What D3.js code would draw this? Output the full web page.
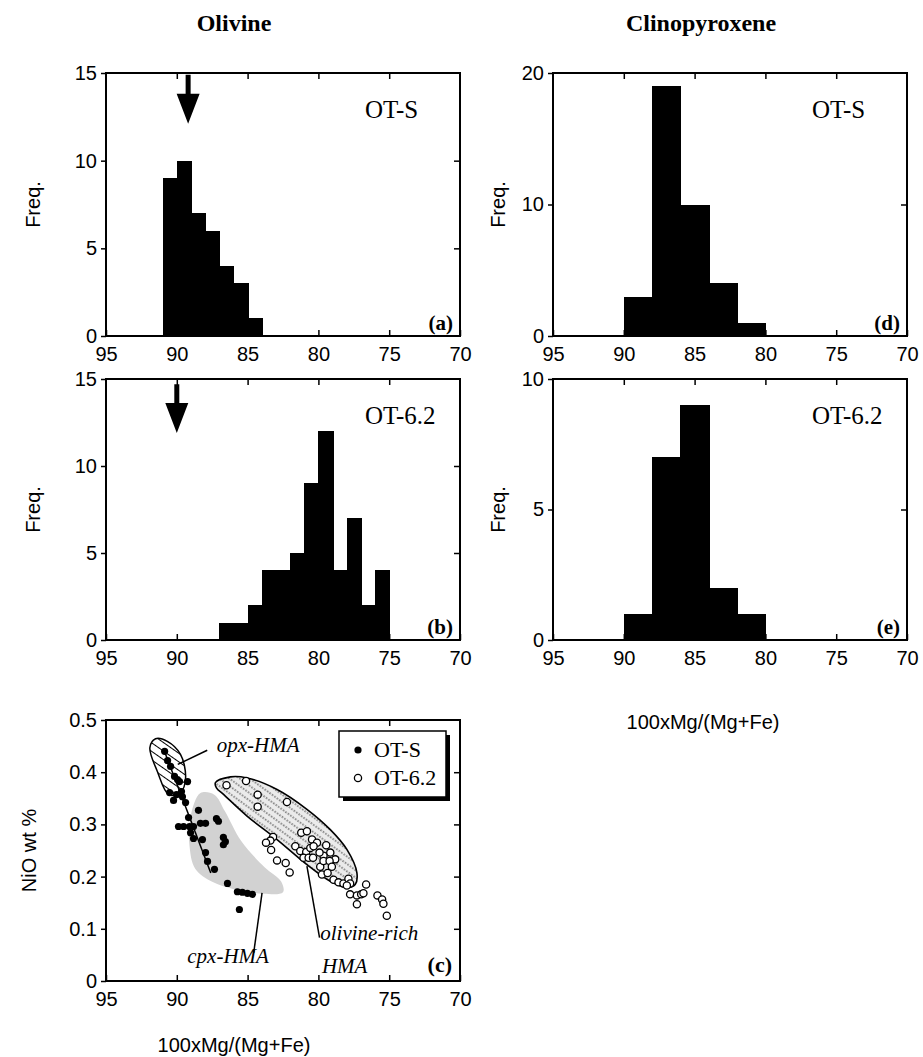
<!doctype html>
<html>
<head>
<meta charset="UTF-8">
<title>Olivine / Clinopyroxene Mg# histograms</title>
<script src="https://d3js.org/d3.v7.min.js"></script>
<style>
  body { margin: 0; background: #fff; }
  .tick text { font-family: "Liberation Sans", Arial, sans-serif; font-size: 20px; fill: #000; }
  .tick line { stroke: #000; stroke-width: 1.5; }
</style>
</head>
<body>
<svg id="fig" width="923" height="1057"></svg>
<script>
// shared x axis: 100xMg/(Mg+Fe), drawn high -> low
var mgTicks = [95, 90, 85, 80, 75, 70];

// olivine histograms, 1-unit bins, value = upper edge of the bin
var olSBins = [91, 90, 89, 88, 87, 86, 85];
var olSCount = [9, 10, 7, 6, 4, 3, 1];
var ol62Bins = [87, 86, 85, 84, 83, 82, 81, 80, 79, 78, 77, 76];
var ol62Count = [1, 1, 2, 4, 4, 5, 9, 12, 4, 7, 2, 4];

// clinopyroxene histograms, 2-unit bins
var cpxBins = [90, 88, 86, 84, 82];
var cpxSCount = [3, 19, 10, 4, 1];
var cpx62Count = [1, 7, 9, 2, 1];

// arrows (mg value, from freq -> to freq)
var arrowS = [89.2, 14.9, 12.1];
var arrow62 = [90.0, 14.7, 11.9];

// NiO vs Mg# of olivine
var otsMg = [90.86, 90.65, 90.44, 90.16, 89.95, 89.81, 89.24, 90.51, 90.23, 90.02, 89.67, 89.60,
  89.38, 89.17, 88.47, 87.20, 87.06, 89.88, 89.52, 89.10, 88.82, 88.33, 87.97, 89.03, 88.82,
  88.19, 86.71, 86.57, 86.71, 87.97, 87.83, 87.34, 86.42, 85.72, 85.37, 85.01, 84.66, 85.58];
var otsNi = [0.440, 0.422, 0.411, 0.392, 0.386, 0.382, 0.382, 0.361, 0.346, 0.357, 0.363, 0.353,
  0.342, 0.313, 0.327, 0.311, 0.306, 0.296, 0.296, 0.296, 0.296, 0.302, 0.302, 0.284, 0.273,
  0.271, 0.275, 0.267, 0.261, 0.246, 0.229, 0.214, 0.187, 0.171, 0.170, 0.168, 0.166, 0.137];
var ot62Mg = [86.49, 85.11, 84.29, 84.29, 82.22, 83.20, 83.39, 83.70, 83.34, 82.92, 82.31, 82.03,
  81.21, 80.81, 80.45, 80.10, 81.63, 81.28, 80.86, 80.57, 80.34, 79.45, 79.16, 78.81, 79.64,
  79.92, 81.05, 80.69, 80.38, 79.87, 79.64, 79.21, 79.05, 79.75, 79.35, 78.93, 78.58, 78.23,
  77.88, 77.76, 77.99, 77.76, 77.28, 76.98, 76.82, 76.63, 77.28, 75.83, 75.50, 75.41, 75.17];
var ot62Ni = [0.375, 0.383, 0.357, 0.334, 0.343, 0.276, 0.269, 0.265, 0.251, 0.231, 0.226, 0.208,
  0.284, 0.287, 0.271, 0.265, 0.258, 0.249, 0.247, 0.255, 0.258, 0.260, 0.246, 0.233, 0.240,
  0.246, 0.236, 0.236, 0.236, 0.219, 0.230, 0.230, 0.219, 0.204, 0.207, 0.194, 0.189, 0.187,
  0.196, 0.187, 0.183, 0.166, 0.164, 0.166, 0.168, 0.185, 0.147, 0.164, 0.156, 0.148, 0.125];
var trendMg = [90.9, 87.6];
var trendNi = [0.442, 0.207];

// field outlines [mg, NiO]
var opxField = [[91.50, 0.464], [91.90, 0.447], [91.38, 0.402], [90.56, 0.357], [89.74, 0.361],
  [89.38, 0.389], [89.74, 0.434], [90.67, 0.459]];
var cpxField = [[88.33, 0.360], [89.05, 0.312], [89.10, 0.258], [88.70, 0.215], [87.50, 0.190],
  [85.98, 0.176], [83.87, 0.167], [82.50, 0.170], [82.62, 0.190], [83.80, 0.218], [85.45, 0.268],
  [86.60, 0.325], [87.35, 0.357]];
var olField = [[87.27, 0.380], [86.21, 0.391], [85.04, 0.389], [82.92, 0.367], [80.81, 0.329],
  [79.16, 0.290], [77.99, 0.252], [77.28, 0.207], [77.40, 0.185], [77.99, 0.179], [79.16, 0.191],
  [80.81, 0.223], [82.92, 0.271], [85.04, 0.316], [86.68, 0.357], [87.20, 0.370]];

var svg = d3.select("#fig");
svg.append("rect").attr("width", 923).attr("height", 1057).attr("fill", "#fff");

var sans = "'Liberation Sans', Arial, sans-serif";
var serif = "'Liberation Serif', 'Times New Roman', serif";

var defs = svg.append("defs");
var hatch = defs.append("pattern").attr("id", "hatch").attr("patternUnits", "userSpaceOnUse")
  .attr("width", 7).attr("height", 7).attr("patternTransform", "rotate(35)");
hatch.append("rect").attr("width", 7).attr("height", 7).attr("fill", "#fff");
hatch.append("line").attr("x1", 0).attr("y1", 3.5).attr("x2", 7).attr("y2", 3.5)
  .attr("stroke", "#000").attr("stroke-width", 1);
var dots = defs.append("pattern").attr("id", "dots").attr("patternUnits", "userSpaceOnUse")
  .attr("width", 6).attr("height", 6).attr("patternTransform", "rotate(36)");
dots.append("rect").attr("width", 6).attr("height", 6).attr("fill", "#ebebeb");
dots.append("line").attr("x1", 0).attr("y1", 3).attr("x2", 6).attr("y2", 3)
  .attr("stroke", "#222").attr("stroke-width", 1).attr("stroke-dasharray", "1.5,1.5");

function makePanel(box, yMax) {
  return {
    box: box,
    x: d3.scaleLinear().domain([95, 70]).range([box[0], box[1]]),
    y: d3.scaleLinear().domain([0, yMax]).range([box[3], box[2]]),
    g: svg.append("g")
  };
}

function drawAxes(p, yTicks, yFmt) {
  var inner = mgTicks.slice(1, -1);
  var yInner = yTicks.slice(1, -1);
  p.g.append("g").attr("transform", "translate(0," + p.box[3] + ")")
    .call(d3.axisBottom(p.x).tickValues(mgTicks).tickSizeInner(-6).tickSizeOuter(0).tickPadding(11));
  p.g.append("g").attr("transform", "translate(0," + p.box[2] + ")")
    .call(d3.axisTop(p.x).tickValues(inner).tickSizeInner(-6).tickSizeOuter(0).tickFormat(""));
  p.g.append("g").attr("transform", "translate(" + p.box[0] + ",0)")
    .call(d3.axisLeft(p.y).tickValues(yTicks).tickSizeInner(5).tickSizeOuter(0).tickPadding(4).tickFormat(yFmt));
  p.g.append("g").attr("transform", "translate(" + p.box[1] + ",0)")
    .call(d3.axisRight(p.y).tickValues(yInner).tickSizeInner(-6).tickSizeOuter(0).tickFormat(""));
  p.g.selectAll(".domain").remove();
  // no outward tick on the frame corners
  p.g.selectAll(".tick").filter(function (d) { return d === yTicks[0] || d === yTicks[yTicks.length - 1]; })
    .select("line").attr("stroke", "none");
  p.g.selectAll(".tick").filter(function (d) { return d === 95 || d === 70; })
    .select("line").attr("stroke", "none");
  p.g.append("rect")
    .attr("x", p.box[0]).attr("y", p.box[2])
    .attr("width", p.box[1] - p.box[0]).attr("height", p.box[3] - p.box[2])
    .attr("fill", "none").attr("stroke", "#000").attr("stroke-width", 2);
}

function drawBars(p, bins, counts, w) {
  p.g.selectAll(".bar").data(bins).enter().append("rect")
    .attr("x", function (d) { return Math.round(p.x(d)); })
    .attr("width", function (d) { return Math.round(p.x(d - w)) - Math.round(p.x(d)) + 1; })
    .attr("y", function (d, i) { return p.y(counts[i]); })
    .attr("height", function (d, i) { return p.y(0) - p.y(counts[i]); })
    .attr("shape-rendering", "crispEdges")
    .attr("fill", "#000");
}

function drawArrow(p, a) {
  var cx = p.x(a[0]), top = p.y(a[1]), tip = p.y(a[2]);
  p.g.append("path")
    .attr("d", "M" + (cx - 2.5) + "," + top + "V" + (tip - 30) + "H" + (cx - 11.5) +
      "L" + cx + "," + tip + "L" + (cx + 11.5) + "," + (tip - 30) + "H" + (cx + 2.5) + "V" + top + "Z")
    .attr("fill", "#000");
}

function panelText(p, name, tag) {
  p.g.append("text").attr("x", p.box[0] + 259).attr("y", p.box[2] + 45)
    .attr("font-family", serif).attr("font-size", 25).text(name);
  p.g.append("text").attr("x", p.box[1] - 7).attr("y", p.box[3] - 6)
    .attr("text-anchor", "end").attr("font-family", serif).attr("font-weight", "bold")
    .attr("font-size", 21).text(tag);
}

function yLabel(x, p, txt) {
  var cy = (p.box[2] + p.box[3]) / 2;
  svg.append("text").attr("transform", "translate(" + x + "," + cy + ") rotate(-90)")
    .attr("text-anchor", "middle").attr("font-family", sans).attr("font-size", 20).text(txt);
}

var intFmt = d3.format("d");

// (a) olivine OT-S
var pa = makePanel([106, 460, 73, 336], 15);
drawBars(pa, olSBins, olSCount, 1);
drawArrow(pa, arrowS);
drawAxes(pa, [0, 5, 10, 15], intFmt);
panelText(pa, "OT-S", "(a)");
yLabel(40, pa, "Freq.");

// (b) olivine OT-6.2
var pb = makePanel([106, 460, 379, 640], 15);
drawBars(pb, ol62Bins, ol62Count, 1);
drawArrow(pb, arrow62);
drawAxes(pb, [0, 5, 10, 15], intFmt);
panelText(pb, "OT-6.2", "(b)");
yLabel(40, pb, "Freq.");

// (d) cpx OT-S
var pd = makePanel([553, 907, 73, 336], 20);
drawBars(pd, cpxBins, cpxSCount, 2);
drawAxes(pd, [0, 10, 20], intFmt);
panelText(pd, "OT-S", "(d)");
yLabel(505, pd, "Freq.");

// (e) cpx OT-6.2
var pe = makePanel([553, 907, 379, 640], 10);
drawBars(pe, cpxBins, cpx62Count, 2);
drawAxes(pe, [0, 5, 10], intFmt);
panelText(pe, "OT-6.2", "(e)");
yLabel(505, pe, "Freq.");

// (c) NiO vs Mg#
var pc = makePanel([106, 460, 720, 981], 0.5);
var area = d3.line().x(function (d) { return pc.x(d[0]); }).y(function (d) { return pc.y(d[1]); })
  .curve(d3.curveCatmullRomClosed.alpha(0.5));
pc.g.append("path").attr("d", area(cpxField)).attr("fill", "#d2d2d2");
pc.g.append("path").attr("d", area(opxField)).attr("fill", "url(#hatch)")
  .attr("stroke", "#000").attr("stroke-width", 1.5);
pc.g.append("path").attr("d", area(olField)).attr("fill", "url(#dots)")
  .attr("stroke", "#000").attr("stroke-width", 1.6);
pc.g.append("line")
  .attr("x1", pc.x(trendMg[0])).attr("y1", pc.y(trendNi[0]))
  .attr("x2", pc.x(trendMg[1])).attr("y2", pc.y(trendNi[1]))
  .attr("stroke", "#000").attr("stroke-width", 1.5);

pc.g.selectAll(".open").data(ot62Mg).enter().append("circle")
  .attr("cx", function (d) { return pc.x(d); })
  .attr("cy", function (d, i) { return pc.y(ot62Ni[i]); })
  .attr("r", 3.6).attr("fill", "#fff").attr("stroke", "#000").attr("stroke-width", 1.3);
pc.g.selectAll(".filled").data(otsMg).enter().append("circle")
  .attr("cx", function (d) { return pc.x(d); })
  .attr("cy", function (d, i) { return pc.y(otsNi[i]); })
  .attr("r", 3.6).attr("fill", "#000");

// leader lines and field names
var leaders = [
  { from: [89.93, 0.415], to: [87.85, 0.442] },
  { from: [84.57, 0.054], to: [83.98, 0.169] },
  { from: [79.92, 0.083], to: [80.81, 0.220] }
];
leaders.forEach(function (l) {
  pc.g.append("line")
    .attr("x1", pc.x(l.from[0])).attr("y1", pc.y(l.from[1]))
    .attr("x2", pc.x(l.to[0])).attr("y2", pc.y(l.to[1]))
    .attr("stroke", "#000").attr("stroke-width", 1.5);
});
var fieldNames = [
  { t: "opx-HMA", at: [87.18, 0.438] },
  { t: "cpx-HMA", at: [89.26, 0.035] },
  { t: "olivine-rich", at: [79.87, 0.078] },
  { t: "HMA", at: [79.75, 0.015] }
];
fieldNames.forEach(function (f) {
  pc.g.append("text").attr("x", pc.x(f.at[0])).attr("y", pc.y(f.at[1]))
    .attr("font-family", serif).attr("font-style", "italic").attr("font-size", 21).text(f.t);
});

drawAxes(pc, [0, 0.1, 0.2, 0.3, 0.4, 0.5], function (d) { return d === 0 ? "0" : d.toFixed(1); });
pc.g.append("text").attr("x", pc.box[1] - 8).attr("y", pc.box[3] - 9)
  .attr("text-anchor", "end").attr("font-family", serif).attr("font-weight", "bold")
  .attr("font-size", 22).text("(c)");
yLabel(36, pc, "NiO wt %");

// legend
var lg = pc.g.append("g").attr("transform", "translate(339,731)");
lg.append("rect").attr("x", 4).attr("y", 4).attr("width", 107).attr("height", 66).attr("fill", "#000");
lg.append("rect").attr("width", 107).attr("height", 66).attr("fill", "#fff")
  .attr("stroke", "#000").attr("stroke-width", 1.5);
lg.append("circle").attr("cx", 19).attr("cy", 19).attr("r", 3.6).attr("fill", "#000");
lg.append("circle").attr("cx", 19).attr("cy", 47).attr("r", 3.6).attr("fill", "#fff")
  .attr("stroke", "#000").attr("stroke-width", 1.3);
lg.append("text").attr("x", 35).attr("y", 26).attr("font-family", serif).attr("font-size", 22).text("OT-S");
lg.append("text").attr("x", 35).attr("y", 54).attr("font-family", serif).attr("font-size", 22).text("OT-6.2");

// column titles and x labels
svg.append("text").attr("x", 234).attr("y", 31).attr("text-anchor", "middle")
  .attr("font-family", serif).attr("font-weight", "bold").attr("font-size", 24).text("Olivine");
svg.append("text").attr("x", 701).attr("y", 31).attr("text-anchor", "middle")
  .attr("font-family", serif).attr("font-weight", "bold").attr("font-size", 24).text("Clinopyroxene");
svg.append("text").attr("x", 703).attr("y", 729).attr("text-anchor", "middle")
  .attr("font-family", sans).attr("font-size", 20).text("100xMg/(Mg+Fe)");
svg.append("text").attr("x", 234).attr("y", 1052).attr("text-anchor", "middle")
  .attr("font-family", sans).attr("font-size", 20).text("100xMg/(Mg+Fe)");
</script>
</body>
</html>
